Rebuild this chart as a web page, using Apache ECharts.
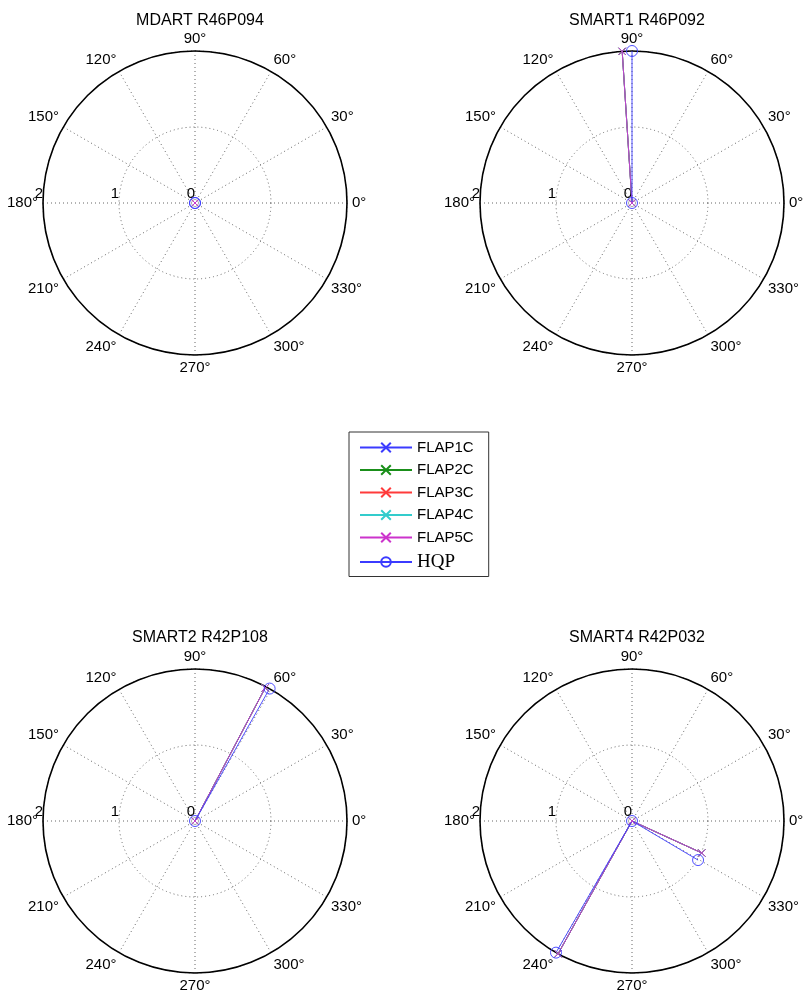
<!DOCTYPE html>
<html><head><meta charset="utf-8">
<script src="https://cdn.jsdelivr.net/npm/echarts@6/dist/echarts.min.js"></script>
<style>html,body{margin:0;padding:0;background:#fff}#c{width:805px;height:999px}</style>
</head><body><div id="c"></div>
<script>
const subplotTitles = ['MDART R46P094', 'SMART1 R46P092', 'SMART2 R42P108', 'SMART4 R42P032'];
const seriesNames = ['FLAP1C', 'FLAP2C', 'FLAP3C', 'FLAP4C', 'FLAP5C', 'HQP'];
const angleTicks = [-180, -150, -120, -90, -60, -30, 0, 30, 60, 90, 120, 150, 180];
const radiusTicks = [0, 1, 2];
// each path: list of [radius, angle in degrees]
const mdartFlap = [[0, 0], [0, 0]];
const mdartHqp = [[0, 0], [0, 0]];
const smart1Flap = [[0, 0], [2.0, 93.7]];
const smart1Hqp = [[0, 0], [2.0, 90]];
const smart2Flap = [[0, 0], [1.98, 62.2]];
const smart2Hqp = [[0, 0], [2.0, 60.6]];
const smart4Flap = [[2.0, 240.9], [0, 0], [1.01, 335.4]];
const smart4Hqp = [[2.0, 240], [0, 0], [1.01, 329.4]];

const flapPaths = [mdartFlap, smart1Flap, smart2Flap, smart4Flap];
const hqpPaths = [mdartHqp, smart1Hqp, smart2Hqp, smart4Hqp];
const colors = ['#3b3bff', '#1a8f1a', '#ff3b3b', '#33cccc', '#cc33cc', '#3b3bff'];
const centers = [[195, 203], [632, 203], [195, 821], [632, 821]];
const R = 152;
const FONT = 'Liberation Sans';
const xPath = 'path://M0,0L10,10M10,0L0,10';

function wrapAngle(a) { return a > 180 ? a - 360 : a; }
function conv(path) { return path.map(p => [p[0], wrapAngle(p[1])]); }

const polar = [], angleAxis = [], radiusAxis = [], title = [], series = [];
centers.forEach((c, i) => {
  polar.push({ center: [c[0], c[1]], radius: R });
  title.push({ text: subplotTitles[i], left: c[0], top: i < 2 ? 8 : 625, textAlign: 'center',
    textStyle: { fontFamily: FONT, fontSize: 16, fontWeight: 'normal', color: '#000' } });
  angleAxis.push({
    polarIndex: i, type: 'value', min: angleTicks[0], max: angleTicks[angleTicks.length - 1],
    interval: 30, startAngle: 180, clockwise: false,
    axisLine: { lineStyle: { color: '#000', width: 1.6 } },
    axisTick: { show: false },
    axisLabel: { margin: 5, align: 'center', verticalAlign: 'middle', color: '#000', fontFamily: FONT, fontSize: 15,
      formatter: v => (v === 180 ? '' : (((v % 360) + 360) % 360) + '°') },
    splitLine: { show: true, lineStyle: { color: '#666', type: [1, 3], width: 1 } }
  });
  radiusAxis.push({
    polarIndex: i, type: 'value', min: radiusTicks[0], max: radiusTicks[radiusTicks.length - 1], interval: 1,
    axisLine: { show: false }, axisTick: { show: false },
    axisLabel: { show: true, margin: -17, align: 'right', color: '#000', fontFamily: FONT, fontSize: 15 },
    splitLine: { show: true, lineStyle: { color: '#666', type: [1, 3], width: 1 } }
  });
  seriesNames.forEach((n, k) => {
    const isHqp = k === 5;
    series.push({
      name: n, type: 'line', coordinateSystem: 'polar', polarIndex: i,
      data: conv(isHqp ? hqpPaths[i] : flapPaths[i]),
      symbol: isHqp ? 'circle' : xPath,
      symbolSize: isHqp ? 11 : 7,
      showAllSymbol: true,
      lineStyle: { color: colors[k], width: 0.9 },
      itemStyle: { color: 'rgba(0,0,0,0)', borderColor: colors[k], borderWidth: 0.9 },
      emphasis: { disabled: true }, animation: false, clip: false
    });
  });
});

const chart = echarts.init(document.getElementById('c'));
chart.setOption({
  animation: false,
  title: title,
  polar: polar, angleAxis: angleAxis, radiusAxis: radiusAxis,
  legend: {
    orient: 'vertical', left: 349, top: 432, padding: [8, 15, 5, 10],
    itemWidth: 52, itemHeight: 12, itemGap: 7.5,
    borderColor: '#333', borderWidth: 1, backgroundColor: '#fff',
    textStyle: { fontFamily: FONT, fontSize: 15, color: '#000' },
    data: seriesNames.map((n, k) => k === 5
      ? { name: n, textStyle: { fontFamily: 'Liberation Serif', fontSize: 19, lineHeight: 15 } }
      : { name: n })
  },
  series: series
});
</script></body></html>
